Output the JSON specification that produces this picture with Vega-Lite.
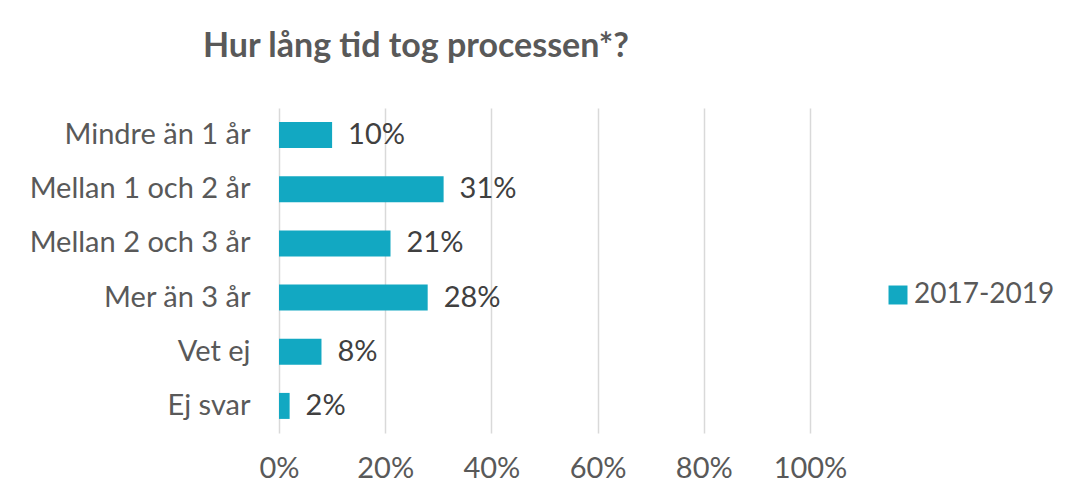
{
  "$schema": "https://vega.github.io/schema/vega-lite/v6.json",
  "width": 531,
  "height": 325,
  "autosize": {"type": "none"},
  "padding": {"left": 279, "top": 108, "right": 256, "bottom": 70},
  "background": "white",
  "config": {
    "view": {"stroke": null},
    "font": "Lato"
  },
  "title": {
    "text": "Hur lång tid tog processen*?",
    "anchor": "start",
    "frame": "group",
    "dx": -76,
    "offset": 44,
    "fontSize": 34,
    "fontWeight": "bold",
    "color": "#595959",
    "font": "Lato"
  },
  "data": {
    "values": [
      {"kategori": "Mindre än 1 år", "andel": 0.10, "ordning": 1, "serie": "2017-2019"},
      {"kategori": "Mellan 1 och 2 år", "andel": 0.31, "ordning": 2, "serie": "2017-2019"},
      {"kategori": "Mellan 2 och 3 år", "andel": 0.21, "ordning": 3, "serie": "2017-2019"},
      {"kategori": "Mer än 3 år", "andel": 0.28, "ordning": 4, "serie": "2017-2019"},
      {"kategori": "Vet ej", "andel": 0.08, "ordning": 5, "serie": "2017-2019"},
      {"kategori": "Ej svar", "andel": 0.02, "ordning": 6, "serie": "2017-2019"}
    ]
  },
  "encoding": {
    "y": {
      "field": "kategori",
      "type": "nominal",
      "sort": {"field": "ordning", "order": "ascending"},
      "scale": {"paddingInner": 0.52, "paddingOuter": 0.26},
      "axis": {
        "title": null,
        "ticks": false,
        "domain": false,
        "labelFontSize": 29,
        "labelColor": "#595959",
        "labelPadding": 29,
        "labelLimit": 400,
        "labelFont": "Lato"
      }
    },
    "x": {
      "field": "andel",
      "type": "quantitative",
      "scale": {"domain": [0, 1], "nice": false},
      "axis": {
        "title": null,
        "format": ".0%",
        "values": [0, 0.2, 0.4, 0.6, 0.8, 1],
        "ticks": false,
        "domain": false,
        "grid": true,
        "gridColor": "#D9D9D9",
        "gridWidth": 1.5,
        "labelFlush": false,
        "labelOverlap": false,
        "labelFontSize": 29,
        "labelColor": "#595959",
        "labelPadding": 21,
        "labelFont": "Lato"
      }
    }
  },
  "layer": [
    {
      "mark": {"type": "bar"},
      "encoding": {
        "color": {
          "field": "serie",
          "type": "nominal",
          "scale": {"range": ["#12A8C2"]},
          "legend": {
            "title": null,
            "orient": "none",
            "legendX": 605,
            "legendY": 173,
            "symbolType": "square",
            "symbolSize": 360,
            "labelFontSize": 28,
            "labelColor": "#595959",
            "labelFont": "Lato",
            "labelOffset": 2
          }
        }
      }
    },
    {
      "mark": {"type": "text", "align": "left", "dx": 16, "fontSize": 29, "color": "#404040", "font": "Lato"},
      "encoding": {
        "text": {"field": "andel", "type": "quantitative", "format": ".0%"}
      }
    }
  ]
}
